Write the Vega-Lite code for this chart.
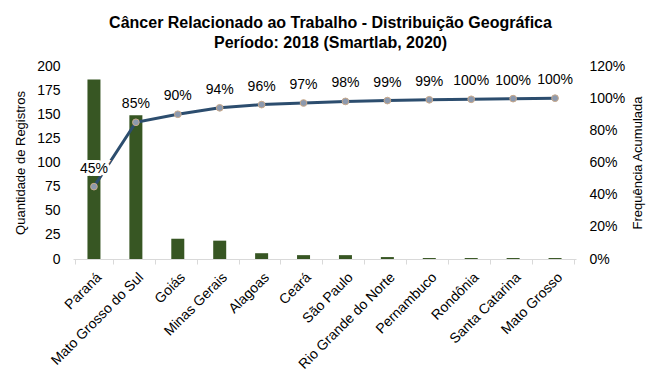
{
  "$schema": "https://vega.github.io/schema/vega-lite/v6.json",
  "width": 503,
  "height": 193,
  "autosize": {"type": "none"},
  "padding": {"left": 73, "top": 66, "right": 87, "bottom": 121},
  "background": "white",
  "config": {
    "font": "Liberation Sans",
    "view": {"stroke": null},
    "axis": {
      "grid": false,
      "labelFont": "Liberation Sans",
      "titleFont": "Liberation Sans",
      "labelColor": "#000000",
      "titleColor": "#000000",
      "labelFontSize": 14,
      "titleFontSize": 13,
      "titleFontWeight": "normal",
      "domain": false,
      "ticks": false
    }
  },
  "title": {
    "text": ["Câncer Relacionado ao Trabalho - Distribuição Geográfica", "Período: 2018 (Smartlab, 2020)"],
    "font": "Liberation Sans",
    "fontSize": 16,
    "fontWeight": "bold",
    "color": "#000000",
    "anchor": "middle",
    "dx": 6,
    "lineHeight": 20,
    "offset": 8
  },
  "data": {
    "values": [
      {"estado": "Paraná", "registros": 186, "acum": 0.45, "rotulo": "45%"},
      {"estado": "Mato Grosso do Sul", "registros": 149, "acum": 0.85, "rotulo": "85%"},
      {"estado": "Goiás", "registros": 21, "acum": 0.90, "rotulo": "90%"},
      {"estado": "Minas Gerais", "registros": 19, "acum": 0.94, "rotulo": "94%"},
      {"estado": "Alagoas", "registros": 6, "acum": 0.96, "rotulo": "96%"},
      {"estado": "Ceará", "registros": 4, "acum": 0.97, "rotulo": "97%"},
      {"estado": "São Paulo", "registros": 4, "acum": 0.98, "rotulo": "98%"},
      {"estado": "Rio Grande do Norte", "registros": 2, "acum": 0.985, "rotulo": "99%"},
      {"estado": "Pernambuco", "registros": 1, "acum": 0.99, "rotulo": "99%"},
      {"estado": "Rondônia", "registros": 1, "acum": 0.993, "rotulo": "100%"},
      {"estado": "Santa Catarina", "registros": 1, "acum": 0.997, "rotulo": "100%"},
      {"estado": "Mato Grosso", "registros": 1, "acum": 1.0, "rotulo": "100%"}
    ]
  },
  "encoding": {
    "x": {
      "field": "estado",
      "type": "nominal",
      "sort": null,
      "title": null,
      "axis": {
        "labelAngle": -45,
        "labelPadding": 6,
        "domain": true,
        "domainColor": "#d9d9d9",
        "ticks": true,
        "tickColor": "#d9d9d9",
        "tickSize": 5,
        "tickBand": "extent"
      }
    }
  },
  "layer": [
    {
      "mark": {"type": "bar", "color": "#375623", "size": 13},
      "encoding": {
        "y": {
          "field": "registros",
          "type": "quantitative",
          "scale": {"domain": [0, 200]},
          "axis": {
            "title": "Quantidade de Registros",
            "values": [0, 25, 50, 75, 100, 125, 150, 175, 200],
            "labelPadding": 13,
            "titlePadding": 9
          }
        }
      }
    },
    {
      "encoding": {
        "y": {
          "field": "acum",
          "type": "quantitative",
          "scale": {"domain": [0, 1.2]},
          "axis": {
            "orient": "right",
            "format": ".0%",
            "title": "Frequência Acumulada",
            "titleAngle": 270,
            "titleBaseline": "bottom",
            "values": [0, 0.2, 0.4, 0.6, 0.8, 1.0, 1.2],
            "labelPadding": 13,
            "titlePadding": 20
          }
        }
      },
      "layer": [
        {"mark": {"type": "line", "color": "#2C4D6E", "strokeWidth": 3}},
        {"mark": {"type": "point", "filled": true, "size": 45, "color": "#8C99AE", "stroke": "#C9A98A", "strokeWidth": 1, "opacity": 1}},
        {"mark": {"type": "text", "dy": -18, "fontSize": 14, "font": "Liberation Sans", "stroke": "white", "strokeWidth": 6, "color": "white"}, "encoding": {"text": {"field": "rotulo"}}},
        {"mark": {"type": "text", "dy": -18, "fontSize": 14, "font": "Liberation Sans", "color": "#000000"}, "encoding": {"text": {"field": "rotulo"}}}
      ]
    }
  ],
  "resolve": {"scale": {"y": "independent"}}
}
